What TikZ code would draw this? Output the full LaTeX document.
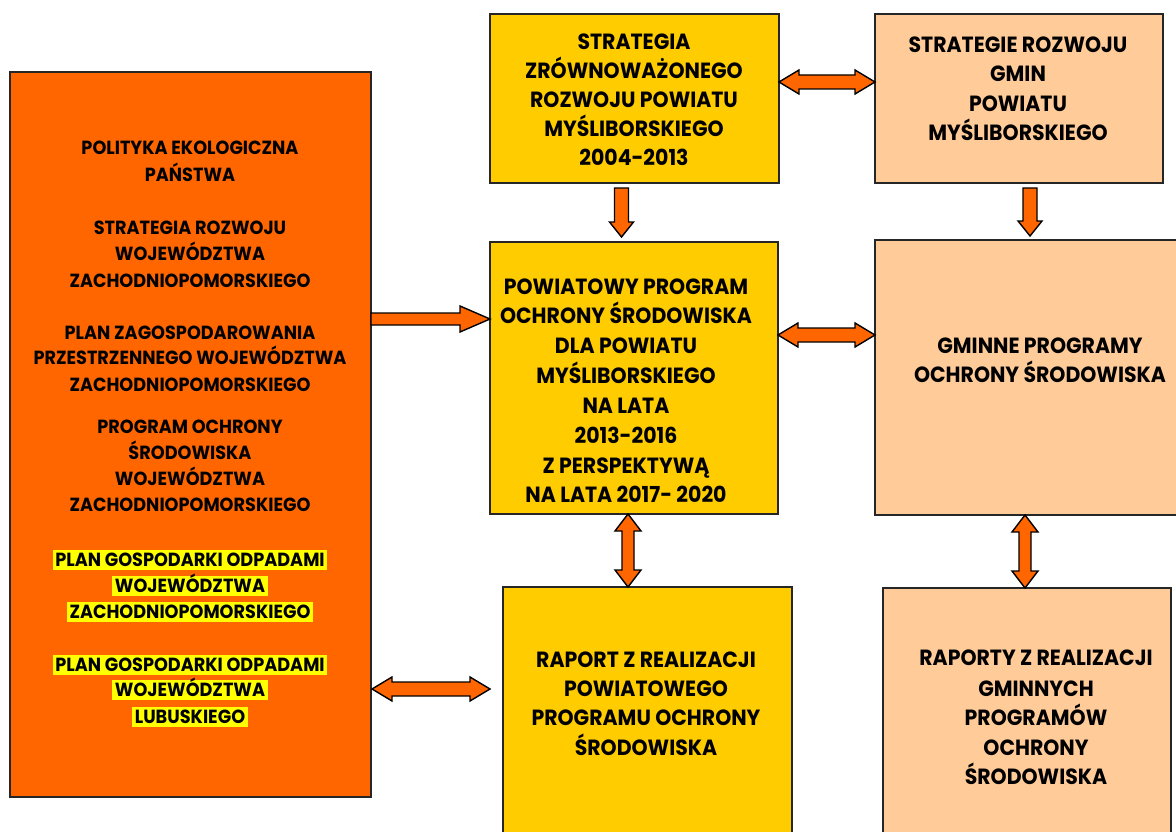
\documentclass[tikz,border=0pt]{standalone}
\usepackage{fontspec}
\usetikzlibrary{calc}
\newfontfamily\cgfont[FakeStretch=0.93]{Poppins}
\definecolor{orng}{HTML}{FF6600}
\definecolor{yel}{HTML}{FFCC00}
\definecolor{peach}{HTML}{FFCC99}
\definecolor{hly}{HTML}{FFFF00}
\newcommand\rarrowR[2]{\draw[barrow] let \p1=(#1), \p2=(#2) in
 (\x1,\y1+6pt) -- (\x2-30pt,\y1+6pt) -- (\x2-30pt,\y1+13pt) -- (\x2,\y1) -- (\x2-30pt,\y1-13pt) -- (\x2-30pt,\y1-6pt) -- (\x1,\y1-6pt) -- cycle;}
\newcommand\dblH[2]{\draw[barrow] let \p1=(#1), \p2=(#2) in
 (\x1,\y1) -- (\x1+20pt,\y1+12pt) -- (\x1+20pt,\y1+7pt) -- (\x2-20pt,\y1+7pt) -- (\x2-20pt,\y1+12pt) -- (\x2,\y1) -- (\x2-20pt,\y1-12pt) -- (\x2-20pt,\y1-7pt) -- (\x1+20pt,\y1-7pt) -- (\x1+20pt,\y1-12pt) -- cycle;}
\newcommand\dblV[2]{\draw[barrow] let \p1=(#1), \p2=(#2) in
 (\x1,\y1) -- (\x1+13pt,\y1-17pt) -- (\x1+6pt,\y1-17pt) -- (\x1+6pt,\y2+17pt) -- (\x1+13pt,\y2+17pt) -- (\x1,\y2) -- (\x1-13pt,\y2+17pt) -- (\x1-6pt,\y2+17pt) -- (\x1-6pt,\y1-17pt) -- (\x1-13pt,\y1-17pt) -- cycle;}
\newcommand\downA[2]{\draw[barrow] let \p1=(#1), \p2=(#2) in
 (\x1-7pt,\y1) -- (\x1+7pt,\y1) -- (\x1+7pt,\y2+15pt) -- (\x1+12pt,\y2+15pt) -- (\x1,\y2) -- (\x1-12pt,\y2+15pt) -- (\x1-7pt,\y2+15pt) -- cycle;}
\begin{document}
\begin{tikzpicture}[x=1pt,y=-1pt,
  box/.style={draw=black!85, line width=1.6pt, anchor=north west, inner sep=0pt, outer sep=0pt},
  barrow/.style={draw=black, line width=1.4pt, fill=orng, line join=miter},
  lt/.style={font=\cgfont\bfseries\fontsize{19}{19}\selectfont, text height=13.3pt, text depth=0pt, inner sep=0pt, anchor=center},
  hl/.style={lt, fill=hly, inner xsep=2.5pt, inner ysep=3.5pt},
  mt/.style={font=\cgfont\bfseries\fontsize{22}{22}\selectfont, text height=15.5pt, text depth=0pt, inner sep=0pt, anchor=center}]
\useasboundingbox (0,0) rectangle (1176,832);
\fill[white] (0,0) rectangle (1176,832);
% boxes
\node[box, fill=orng, minimum width=361pt, minimum height=725pt] (L) at (10,72) {};
\node[box, fill=yel, minimum width=289pt, minimum height=169pt] (TM) at (490,14) {};
\node[box, fill=peach, minimum width=288pt, minimum height=169pt] (TR) at (875,14) {};
\node[box, fill=yel, minimum width=288pt, minimum height=272pt] (M) at (490,242) {};
\node[box, fill=peach, minimum width=330pt, minimum height=275pt] (G) at (875,240) {};
\node[box, fill=yel, minimum width=289pt, minimum height=270pt] (R) at (503,587) {};
\node[box, fill=peach, minimum width=288pt, minimum height=270pt] (RG) at (883,588) {};
% left texts
\foreach \t/\y [count=\i] in {POLITYKA EKOLOGICZNA/148, PAŃSTWA/175,
  STRATEGIA ROZWOJU/228, WOJEWÓDZTWA/254, ZACHODNIOPOMORSKIEGO/281,
  PLAN ZAGOSPODAROWANIA/333, PRZESTRZENNEGO WOJEWÓDZTWA/358, ZACHODNIOPOMORSKIEGO/385,
  PROGRAM OCHRONY/427, ŚRODOWISKA/453, WOJEWÓDZTWA/479, ZACHODNIOPOMORSKIEGO/505}
  \node[lt] (lt\i) at (190,\y) {\t};
\foreach \t/\y [count=\i] in {PLAN GOSPODARKI ODPADAMI/560, WOJEWÓDZTWA/586, ZACHODNIOPOMORSKIEGO/612,
  PLAN GOSPODARKI ODPADAMI/665, WOJEWÓDZTWA/690, LUBUSKIEGO/717}
  \node[hl] (hl\i) at (190,\y) {\t};
% top middle
\foreach \t/\y [count=\i] in {STRATEGIA/42, ZRÓWNOWAŻONEGO/71, ROZWOJU POWIATU/100, MYŚLIBORSKIEGO/129, 2004-2013/158}
  \node[mt] (tm\i) at (634,\y) {\t};
\foreach \t/\y [count=\i] in {STRATEGIE ROZWOJU/45, GMIN/74, POWIATU/104, MYŚLIBORSKIEGO/133}
  \node[mt] (tr\i) at (1018,\y) {\t};
\foreach \t/\y [count=\i] in {POWIATOWY PROGRAM/287, OCHRONY ŚRODOWISKA/316, DLA POWIATU/346, MYŚLIBORSKIEGO/376,
  NA LATA/406, 2013-2016/436, Z PERSPEKTYWĄ/466, NA LATA 2017- 2020/495}
  \node[mt] (m\i) at (626,\y) {\t};
\foreach \t/\y [count=\i] in {GMINNE PROGRAMY/346, OCHRONY ŚRODOWISKA/375}
  \node[mt] (g\i) at (1040,\y) {\t};
\foreach \t/\y [count=\i] in {RAPORT Z REALIZACJI/660, POWIATOWEGO/689, PROGRAMU OCHRONY/718, ŚRODOWISKA/748}
  \node[mt] (r\i) at (646,\y) {\t};
\foreach \t/\y [count=\i] in {RAPORTY Z REALIZACJI/658, GMINNYCH/689, PROGRAMÓW/718, OCHRONY/748, ŚRODOWISKA/777}
  \node[mt] (rg\i) at (1036,\y) {\t};
% connector coordinates
\coordinate (a1s) at ($(L.north east)+(0,247)$);
\coordinate (a1e) at ($(a1s -| M.west)$);
\coordinate (a2s) at ($(TM.north east)+(0,68)$);
\coordinate (a2e) at ($(a2s -| TR.west)$);
\coordinate (a3s) at ($(M.north east)+(0,93)$);
\coordinate (a3e) at ($(a3s -| G.west)$);
\coordinate (d1s) at ($(TM.south)+(-13,5)$);
\coordinate (d1e) at ($(d1s |- M.north)+(0,-5)$);
\coordinate (d2s) at ($(TR.south)+(11,5)$);
\coordinate (d2e) at ($(d2s |- G.north)+(0,-4)$);
\coordinate (v1s) at ($(M.south)+(-6,0)$);
\coordinate (v1e) at ($(v1s |- R.north)$);
\coordinate (v2s) at ($(G.south)+(-15,0)$);
\coordinate (v2e) at ($(v2s |- RG.north)$);
\coordinate (a4s) at ($(L.north east)+(1,617)$);
\coordinate (a4e) at ($(a4s -| R.west)+(-13,0)$);
% connectors
\rarrowR{a1s}{a1e}
\dblH{a2s}{a2e}
\dblH{a3s}{a3e}
\downA{d1s}{d1e}
\downA{d2s}{d2e}
\dblV{v1s}{v1e}
\dblV{v2s}{v2e}
\dblH{a4s}{a4e}
\end{tikzpicture}
\end{document}
